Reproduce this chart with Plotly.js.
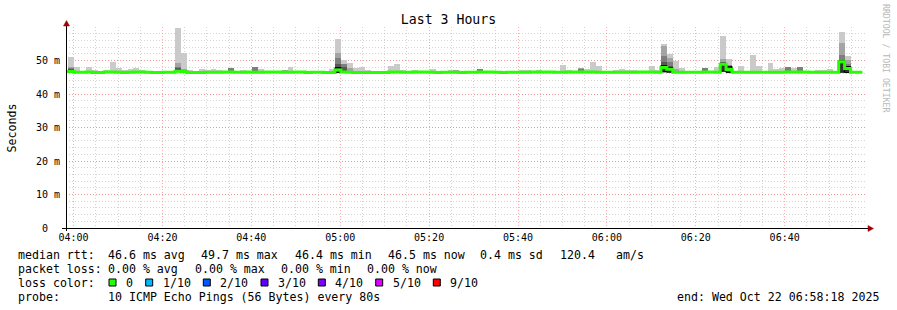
<!DOCTYPE html>
<html><head><meta charset="utf-8">
<script src="https://cdn.plot.ly/plotly-3.0.1.min.js"></script>
<style>html,body{margin:0;padding:0;background:#fff;}#chart{width:897px;height:310px;opacity:0.999;}</style>
</head><body><div id="chart"></div>
<script>
// ---- time frame (80 s RRD steps) ----
const FIRST_STEP_START = Date.UTC(2025, 9, 22, 3, 57, 29);
const STEP_MS = 80000;
const RANGE_START = Date.UTC(2025, 9, 22, 3, 58, 18);
const RANGE_END = Date.UTC(2025, 9, 22, 6, 58, 18);

// ---- median rtt per step (ms) ----
const median = [
46.7,46.7,46.5,46.5,46.6,46.4,46.4,46.6,46.6,46.5,
46.4,46.5,46.6,46.6,46.5,46.4,46.4,46.5,46.5,46.8,
46.7,46.4,46.4,46.4,46.5,46.5,46.5,46.6,46.6,46.5,
46.5,46.6,46.5,46.5,46.6,46.6,46.6,46.5,46.5,46.6,
46.6,46.4,46.5,46.5,46.4,46.4,47.2,46.6,46.5,46.4,
46.4,46.4,46.4,46.4,46.4,46.6,46.6,46.5,46.5,46.6,
46.6,46.6,46.5,46.4,46.5,46.5,46.5,46.4,46.5,46.5,
46.6,46.6,46.6,46.5,46.4,46.5,46.5,46.5,46.5,46.6,
46.6,46.6,46.6,46.5,46.5,46.6,46.6,46.6,46.6,46.6,
46.5,46.5,46.5,46.5,46.5,46.5,46.5,46.6,46.6,46.6,
46.5,47.9,47.4,46.5,46.5,46.5,46.5,46.5,46.6,46.6,
46.5,48.9,47.3,46.5,46.5,46.5,46.5,46.5,46.5,46.5,
46.5,46.5,46.6,46.6,46.6,46.6,46.5,46.5,46.5,46.5,
46.5,49.6,47.6,46.5,46.5
];

// ---- slowest ping per step (ms): top of the light smoke ----
const pingMax = [
46.9,51.1,48.1,46.9,48.1,47.2,46.9,47.2,49.7,47.9,
47.2,47.5,47.9,47.2,46.9,46.9,46.9,46.9,46.9,59.7,
52.2,47.2,46.9,47.6,47.3,47.6,47.3,46.9,47.9,46.9,
47.2,46.9,48.1,47.6,47.0,47.0,46.9,47.3,48.1,47.0,
46.9,46.9,46.9,46.9,46.9,47.6,56.4,50.1,49.3,47.9,
48.1,47.2,46.9,46.9,46.9,48.4,49.1,47.2,47.0,47.2,
46.9,46.9,47.5,47.0,46.9,47.2,47.2,46.9,46.9,46.9,
47.6,47.0,46.9,46.9,46.9,46.9,46.9,47.1,47.3,47.0,
47.1,46.9,46.9,46.9,48.7,47.2,46.9,47.7,47.5,49.6,
48.4,46.9,47.0,47.1,47.5,47.1,47.1,46.9,46.9,48.4,
47.1,54.9,52.0,49.9,47.9,46.9,46.9,46.9,47.9,46.9,
48.2,57.4,50.4,46.9,48.4,46.9,51.7,48.4,46.9,49.4,
47.6,47.9,48.1,47.9,48.2,47.0,46.9,47.2,47.2,47.6,
46.9,58.6,51.4,46.9,46.9
];

// ---- inner smoke levels: [step index, ping value in ms] (only where visible) ----
const ping9 = [[1,48.0],[19,49.4],[20,47.6],[28,47.8],[32,48.1],[37,47.3],[46,52.3],[47,48.9],[48,47.9],
  [66,47.2],[70,47.6],[87,47.7],[101,54.3],[102,50.8],[103,47.5],[108,47.9],[111,50.4],[112,48.4],
  [122,48.1],[124,48.2],[131,55.1],[132,50.2]];
const ping8 = [[1,47.9],[19,47.95],[28,47.8],[32,48.0],[46,50.8],[47,48.9],[70,47.6],[87,47.6],
  [101,51.3],[102,49.5],[108,47.8],[111,49.6],[112,48.3],[122,48.0],[124,48.1],[131,51.6],[132,49.0]];
const ping7 = [[1,47.4],[19,47.9],[46,49.1],[47,48.1],[101,49.6],[102,48.3],[111,49.4],[131,50.3],[132,48.4]];
const ping6 = [[46,47.9],[101,48.5],[102,47.9],[111,49.2],[112,48.3],[131,49.9],[132,48.2]];
const ping5 = [[46,46.4],[101,46.6],[102,46.5],[111,46.8],[112,46.4],[131,46.5],[132,46.4]];

// ---- legend ----
const rttItems = ['median rtt:', '46.6 ms avg', '49.7 ms max', '46.4 ms min', '46.5 ms now', '0.4 ms sd', '120.4', 'am/s'];
const lossItems = ['packet loss:', '0.00 % avg', '0.00 % max', '0.00 % min', '0.00 % now'];
const probeItems = ['probe:', '10 ICMP Echo Pings (56 Bytes) every 80s'];
const endText = 'end: Wed Oct 22 06:58:18 2025';
const lossLabels = ['0','1/10','2/10','3/10','4/10','5/10','9/10'];
const lossColors = ['#26ff00','#00b8ff','#0059ff','#5e00ff','#7e00ff','#dd00ff','#ff0000'];
const smokeColors = ['#cacaca','#a4a4a4','#7e7e7e','#585858','#323232'];
const yTickVals = [0,10,20,30,40,50];
const yTickText = ['0\u00a0\u00a0','10 m','20 m','30 m','40 m','50 m'];

const N = median.length;
const centers = median.map((_, i) => FIRST_STEP_START + (i + 0.5) * STEP_MS);
const lowMap = Object.fromEntries(ping5);
const base = median.map((m, i) => (lowMap[i] !== undefined ? lowMap[i] : m - 0.25));

function band(topArr, color, outline) {
  const y = new Array(N).fill(null);
  topArr.forEach((v, i) => { if (v !== null) y[i] = v - base[i]; });
  return {type:'bar', x:centers, y:y, base:base, width:STEP_MS,
    marker:{color:color, line:{width: outline ? 1 : 0, color:'#000'}},
    hoverinfo:'skip', showlegend:false};
}
function sparse(pairs) { const a = new Array(N).fill(null); pairs.forEach(([i,v]) => { a[i] = v; }); return a; }

const traces = [
  band(pingMax, smokeColors[0]),
  band(sparse(ping9), smokeColors[1]),
  band(sparse(ping8), smokeColors[2]),
  band(sparse(ping7), smokeColors[3]),
  band(sparse(ping6), smokeColors[4], true)
];
const lineX = median.map((_, i) => FIRST_STEP_START + i * STEP_MS).concat([FIRST_STEP_START + N * STEP_MS]);
const lineY = median.concat([median[N - 1]]);
traces.push({type:'scatter', mode:'lines', x:lineX, y:lineY,
  line:{color:lossColors[0], width:3, shape:'hv'}, hoverinfo:'skip', showlegend:false});

// ---- pixel helpers for decorations (plot area: x 66..866, y 27..228) ----
const L = 66, T = 27, W = 800, H = 201;
const px = x => (x - L) / W;
const py = y => (T + H - y) / H;
const MONO = 'DejaVu Sans Mono, monospace';
const nb = s => s.replace(/ /g, '\u00a0');

function txt(x, y, s, opts) {
  return Object.assign({xref:'paper', yref:'paper', x:px(x), y:py(y), text:nb(s), showarrow:false,
    xanchor:'left', yanchor:'middle', font:{family:MONO, size:11.6, color:'#000'}}, opts || {});
}

const annotations = [
  txt(11, 127.5, 'Seconds', {xanchor:'center', textangle:-90}),
  txt(886, 59, 'RRDTOOL / TOBI OETIKER', {xanchor:'center', textangle:90, font:{family:MONO, size:8.2, color:'#b8b8b8'}})
];
const rttX = [15.8, 106.3, 199.3, 292.6, 386, 477.6, 557.6, 613.6];
rttItems.forEach((s, k) => annotations.push(txt(rttX[k], 254.5, s)));
const lossX = [15.8, 106.3, 192.6, 278.6, 365];
lossItems.forEach((s, k) => annotations.push(txt(lossX[k], 268.5, s)));
annotations.push(txt(15.8, 282.5, 'loss color:'));
const probeX = [15.8, 106.3];
probeItems.forEach((s, k) => annotations.push(txt(probeX[k], 296.5, s)));
annotations.push(txt(881, 296.5, endText, {xanchor:'right'}));

const sqLeft = [109, 145.7, 203.3, 261, 318.3, 375.7, 433.3];
const shapes = [];
lossLabels.forEach((lab, k) => {
  annotations.push(txt(sqLeft[k] + 15, 282.5, lab));
  shapes.push({type:'rect', xref:'paper', yref:'paper', x0:px(sqLeft[k]), x1:px(sqLeft[k] + 7),
    y0:py(286), y1:py(279), fillcolor:lossColors[k], line:{color:'#000', width:1}});
});
// axis lines with arrows
shapes.push({type:'line', xref:'paper', yref:'paper', x0:px(62), x1:px(869), y0:py(228.5), y1:py(228.5), line:{color:'#000', width:1}});
shapes.push({type:'line', xref:'paper', yref:'paper', x0:px(66.5), x1:px(66.5), y0:py(231), y1:py(23), line:{color:'#000', width:1}});
shapes.push({type:'path', xref:'paper', yref:'paper', fillcolor:'#a00000', line:{color:'#a00000', width:0.5},
  path:`M ${px(63.5)} ${py(26)} L ${px(69.5)} ${py(26)} L ${px(66.5)} ${py(20.5)} Z`});
shapes.push({type:'path', xref:'paper', yref:'paper', fillcolor:'#a00000', line:{color:'#a00000', width:0.5},
  path:`M ${px(868)} ${py(225.5)} L ${px(868)} ${py(231.5)} L ${px(873.5)} ${py(228.5)} Z`});

const minorGrid = 'rgba(160,160,160,0.45)';
const majorGrid = 'rgba(255,90,90,0.5)';
const layout = {
  width:897, height:310,
  margin:{l:L, r:897 - L - W, t:T, b:310 - T - H, pad:0},
  paper_bgcolor:'#fff', plot_bgcolor:'#fff',
  barmode:'overlay', bargap:0, showlegend:false,
  title:{text:'Last 3 Hours', x:0.5, xanchor:'center', y:1 - 19.5/310, yanchor:'middle',
    font:{family:MONO, size:13.2, color:'#000'}},
  xaxis:{type:'date', range:[RANGE_START, RANGE_END], tickformat:'%H:%M',
    tick0:Date.UTC(2025, 9, 22, 4, 0, 0), dtick:20 * 60000, ticks:'', showline:false, zeroline:false,
    showgrid:true, gridcolor:majorGrid, griddash:'1px,2px', gridwidth:1,
    minor:{dtick:5 * 60000, tick0:Date.UTC(2025, 9, 22, 4, 0, 0), showgrid:true, gridcolor:minorGrid, griddash:'1px,2px', gridwidth:1},
    tickfont:{family:MONO, size:10, color:'#000'}, ticklabelstandoff:2, fixedrange:true},
  yaxis:{range:[0, 60], tickmode:'array', tickvals:yTickVals, ticktext:yTickText, ticks:'', showline:false, zeroline:false,
    showgrid:true, gridcolor:majorGrid, griddash:'1px,2px', gridwidth:1,
    minor:{dtick:2, tick0:0, showgrid:true, gridcolor:minorGrid, griddash:'1px,2px', gridwidth:1},
    tickfont:{family:MONO, size:10, color:'#000'}, ticklabelstandoff:5, fixedrange:true},
  annotations:annotations, shapes:shapes
};
Plotly.newPlot('chart', traces, layout, {staticPlot:true, displayModeBar:false});
</script></body></html>
